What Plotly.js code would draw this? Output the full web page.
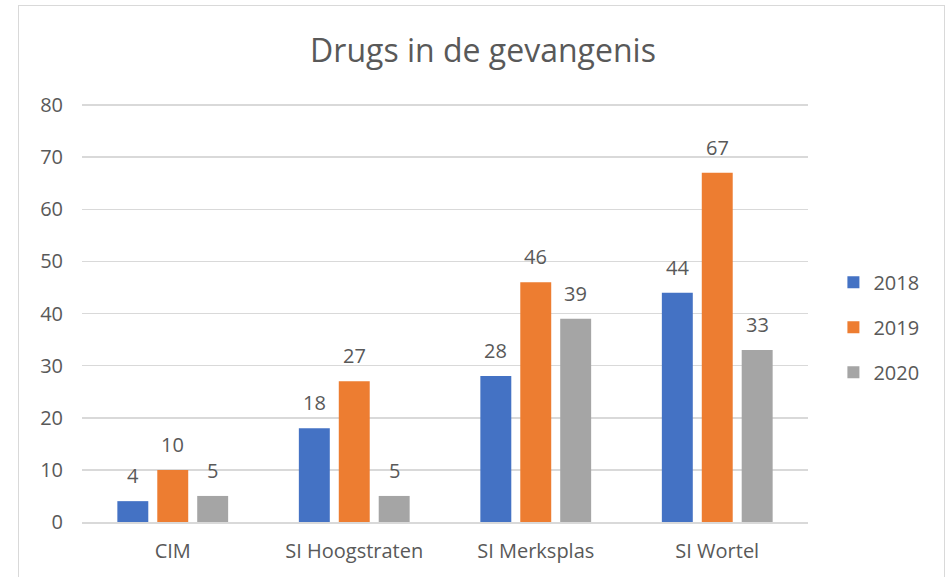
<!DOCTYPE html>
<html>
<head>
<meta charset="utf-8">
<script src="https://cdn.plot.ly/plotly-3.0.1.min.js"></script>
<style>
html,body{margin:0;padding:0;background:#fff;overflow:hidden;}
#chart{width:948px;height:577px;position:relative;}
#frame{position:absolute;left:18px;top:5px;width:927px;height:600px;border:1.5px solid #d9d9d9;box-sizing:border-box;pointer-events:none;}
</style>
</head>
<body>
<div id="chart"></div>
<div id="frame"></div>
<script>
const categories = ["CIM", "SI Hoogstraten", "SI Merksplas", "SI Wortel"];
const years = ["2018", "2019", "2020"];
const values2018 = [4, 18, 28, 44];
const values2019 = [10, 27, 46, 67];
const values2020 = [5, 5, 39, 33];
const colors = ["#4472C4", "#ED7D31", "#A5A5A5"];
const yTicks = [0, 10, 20, 30, 40, 50, 60, 70, 80];

const series = [values2018, values2019, values2020];
const font = "Open Sans, Liberation Sans, sans-serif";
const textColor = "#595959";
const bargap = 0.34;
const slot = (1 - bargap) / series.length;

const traces = series.map((vals, i) => ({
  type: "bar",
  name: years[i],
  x: categories,
  y: vals,
  marker: {color: colors[i]},
  legendgroup: years[i]
}));

const annotations = [];
series.forEach((vals, i) => {
  vals.forEach((v, j) => {
    annotations.push({
      xref: "x", yref: "y",
      x: j + (i - (series.length - 1) / 2) * slot,
      y: v,
      text: String(v),
      showarrow: false,
      xanchor: "center", yanchor: "bottom",
      yshift: 10,
      font: {size: 20, color: textColor, family: font}
    });
  });
});

const layout = {
  width: 948, height: 577,
  margin: {l: 82, r: 140, t: 103, b: 55},
  paper_bgcolor: "#fff", plot_bgcolor: "#fff",
  title: {text: "Drugs in de gevangenis", font: {size: 32, color: textColor, family: font}, xref: "container", x: 0.5095, xanchor: "center", y: 0.912, yanchor: "middle"},
  barmode: "group",
  bargap: bargap,
  bargroupgap: 0.225,
  xaxis: {
    tickfont: {size: 20, color: textColor, family: font},
    showgrid: false, showline: true, linecolor: "#d9d9d9", linewidth: 2,
    ticks: "", ticklabelstandoff: 10, zeroline: false
  },
  yaxis: {
    range: [0, 80.4], tickvals: yTicks,
    tickfont: {size: 20, color: textColor, family: font},
    showgrid: true, gridcolor: "#d9d9d9", gridwidth: 1.5,
    showline: false, zeroline: false, ticks: "", ticklabelstandoff: 18
  },
  annotations: annotations,
  legend: {
    x: 1.035, xanchor: "left", y: 0.465, yanchor: "middle",
    font: {size: 20, color: textColor, family: font},
    traceorder: "grouped", tracegroupgap: 16,
    itemwidth: 30
  },
  showlegend: true
};

Plotly.newPlot("chart", traces, layout, {displayModeBar: false, staticPlot: true});
</script>
</body>
</html>
